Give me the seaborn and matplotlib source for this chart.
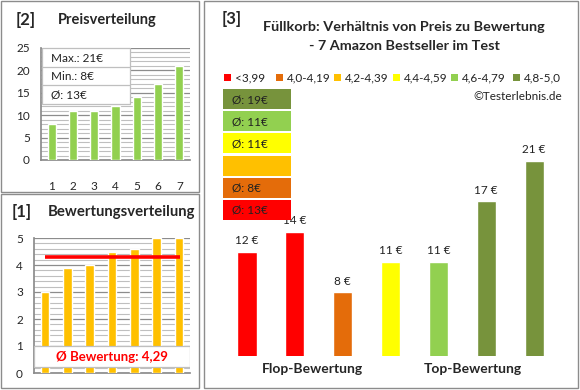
import matplotlib
matplotlib.use("Agg")
import matplotlib.pyplot as plt
from matplotlib.patches import Rectangle
from matplotlib.ticker import MultipleLocator
import numpy as np
import seaborn as sns

# data, products sorted by rating
ratings = [3.0, 3.9, 4.0, 4.5, 4.6, 5.0, 5.0]
prices = [12, 14, 8, 11, 11, 17, 21]
price_sorted = sorted(prices)
band_labels = ["<3,99", "4,0-4,19", "4,2-4,39", "4,4-4,59", "4,6-4,79", "4,8-5,0"]
band_edges = [4.0, 4.2, 4.4, 4.6, 4.8]
band_colors = ["#FF0000", "#E46C0A", "#FFC000", "#FFFF00", "#92D050", "#77933C"]

W, H = 580, 390
GRAY = "#8C8C8C"

sns.set_theme(style="white")
plt.rcParams["font.family"] = ["Lato", "DejaVu Sans"]


def rect(x0, y0, x1, y1):
    # pixel box (top-left origin) -> figure fraction
    return [x0 / W, 1 - y1 / H, (x1 - x0) / W, (y1 - y0) / H]


def ftext(x, y, s, **kw):
    fig.text(x / W, 1 - y / H, s, **kw)


def fbox(x0, y0, x1, y1, **kw):
    fig.patches.append(Rectangle((x0 / W, 1 - y1 / H), (x1 - x0) / W, (y1 - y0) / H,
                                 transform=fig.transFigure, figure=fig, **kw))


fig = plt.figure(figsize=(5.8, 3.9), dpi=100)

# panel frames
fbox(1, 1, 199, 192, fill=False, edgecolor=GRAY, lw=1)
fbox(1, 194, 199, 388, fill=False, edgecolor=GRAY, lw=1)
fbox(204, 1, 578, 388, fill=False, edgecolor=GRAY, lw=1)

ranks = [str(i + 1) for i in range(len(prices))]
band_idx = [int(np.searchsorted(band_edges, r, side="right")) for r in ratings]

# ---- [2] Preisverteilung
ax2 = fig.add_axes(rect(41, 48, 190, 160))
sns.barplot(x=ranks, y=price_sorted, color="#92D050", width=0.38, saturation=1, ax=ax2, zorder=3)
ax2.set_ylim(0, 25)
ax2.set_xlim(-0.5, 6.5)
ax2.yaxis.set_major_locator(MultipleLocator(5))
ax2.yaxis.set_minor_locator(MultipleLocator(1))
ax2.grid(which="major", axis="y", color="#8C8C8C", lw=0.9)
ax2.grid(which="minor", axis="y", color="#BFBFBF", lw=0.8)
ax2.set_axisbelow(True)
for s in ["top", "right"]:
    ax2.spines[s].set_visible(False)
for s in ["left", "bottom"]:
    ax2.spines[s].set_color(GRAY)
ax2.tick_params(axis="x", length=0, pad=15, labelsize=8.5)
ax2.tick_params(axis="y", length=0, pad=8, labelsize=8.5)
ax2.set_xlabel("")
ax2.set_ylabel("")
ftext(16, 20, "[2]", fontsize=12, fontweight="bold", va="center")
ftext(58, 20, "Preisverteilung", fontsize=10.5, fontweight="bold", va="center")

# info box
fbox(42, 48, 130, 104, facecolor="white", edgecolor="#BFBFBF", lw=0.9, zorder=5)
for yy in (67, 85):
    fig.add_artist(plt.Line2D([42 / W, 130 / W], [1 - yy / H] * 2, color="#BFBFBF", lw=0.9, zorder=6))
info = [f"Max.: {max(prices)}€", f"Min.: {min(prices)}€", f"Ø: {round(np.mean(prices))}€"]
for i, s in enumerate(info):
    ftext(51, 58 + i * 18.5, s, fontsize=8.5, va="center", zorder=7, color="#222222")

# ---- [1] Bewertungsverteilung
ax1 = fig.add_axes(rect(34, 238, 190, 373))
sns.barplot(x=ranks, y=ratings, color="#FFC000", width=0.38, saturation=1, ax=ax1, zorder=3)
ax1.set_ylim(0, 5)
ax1.set_xlim(-0.5, 6.5)
ax1.yaxis.set_major_locator(MultipleLocator(1))
ax1.yaxis.set_minor_locator(MultipleLocator(0.2))
ax1.grid(which="major", axis="y", color="#8C8C8C", lw=0.9)
ax1.grid(which="minor", axis="y", color="#BFBFBF", lw=0.8)
ax1.set_axisbelow(True)
for s in ["top", "right"]:
    ax1.spines[s].set_visible(False)
for s in ["left", "bottom"]:
    ax1.spines[s].set_color(GRAY)
ax1.tick_params(axis="x", length=0, labelbottom=False)
ax1.tick_params(axis="y", length=0, pad=8, labelsize=8.5)
ax1.set_xlabel("")
ax1.set_ylabel("")
mean_rating = np.mean(ratings)
ax1.plot([0.0, 6.05], [mean_rating] * 2, color="#FF0000", lw=2.6, zorder=4, solid_capstyle="butt")
ax1.add_patch(Rectangle((-0.5, 0.22), 7, 0.78, facecolor="white", edgecolor="#BFBFBF", lw=0.9, zorder=5))
ax1.text(3, 0.6, f"Ø Bewertung: {mean_rating:.2f}".replace(".", ","), ha="center", va="center",
         color="#FF0000", fontsize=9.5, fontweight="bold", zorder=6)
ftext(12, 212, "[1]", fontsize=12, fontweight="bold", va="center")
ftext(48, 212, "Bewertungsverteilung", fontsize=10.7, fontweight="bold", va="center")

# ---- [3] Preis zu Bewertung
ax3 = fig.add_axes(rect(223, 88, 558, 356))
bar_colors = [band_colors[b] for b in band_idx]
sns.barplot(x=list(range(len(prices))), y=prices, hue=list(range(len(prices))), palette=bar_colors,
            width=0.4, saturation=1, legend=False, ax=ax3)
ax3.set_ylim(1.7, 28.2)
ax3.set_xlim(-0.5, 6.5)
ax3.axis("off")
for i, p in enumerate(prices):
    ax3.annotate(f"{p} €", (i, p), xytext=(0, 4), textcoords="offset points",
                 ha="center", va="bottom", fontsize=8.5, color="#222222")
ftext(312, 369, "Flop-Bewertung", fontsize=10, fontweight="bold", ha="center", va="center")
ftext(473, 369, "Top-Bewertung", fontsize=10, fontweight="bold", ha="center", va="center")

ftext(222, 19, "[3]", fontsize=12, fontweight="bold", va="center")
ftext(404, 27, "Füllkorb: Verhältnis von Preis zu Bewertung", fontsize=10.4, fontweight="bold",
      ha="center", va="center")
ftext(404, 46, "- 7 Amazon Bestseller im Test", fontsize=10.4, fontweight="bold", ha="center", va="center")

# legend row
leg_x = [224, 276, 334, 393, 451, 513]
for x, lab, c in zip(leg_x, band_labels, band_colors):
    fbox(x, 74, x + 7, 81, facecolor=c, edgecolor="none")
    ftext(x + 11, 78, lab, fontsize=8.5, va="center", color="#222222")
ftext(562, 97, "©Testerlebnis.de", fontsize=8.5, ha="right", va="center", color="#222222")

# average price per rating band, stacked from best band on top
for k, band in enumerate(reversed(range(len(band_colors)))):
    y0 = 89 + k * 22.2
    fbox(223, y0, 291, y0 + 20, facecolor=band_colors[band], edgecolor="none", zorder=5)
    vals = [p for p, b in zip(prices, band_idx) if b == band]
    if vals:
        ftext(232, y0 + 10.5, f"Ø: {round(np.mean(vals))}€", fontsize=8.5, va="center",
              color="#222222", zorder=6)

fig.savefig("out.png", dpi=100)
